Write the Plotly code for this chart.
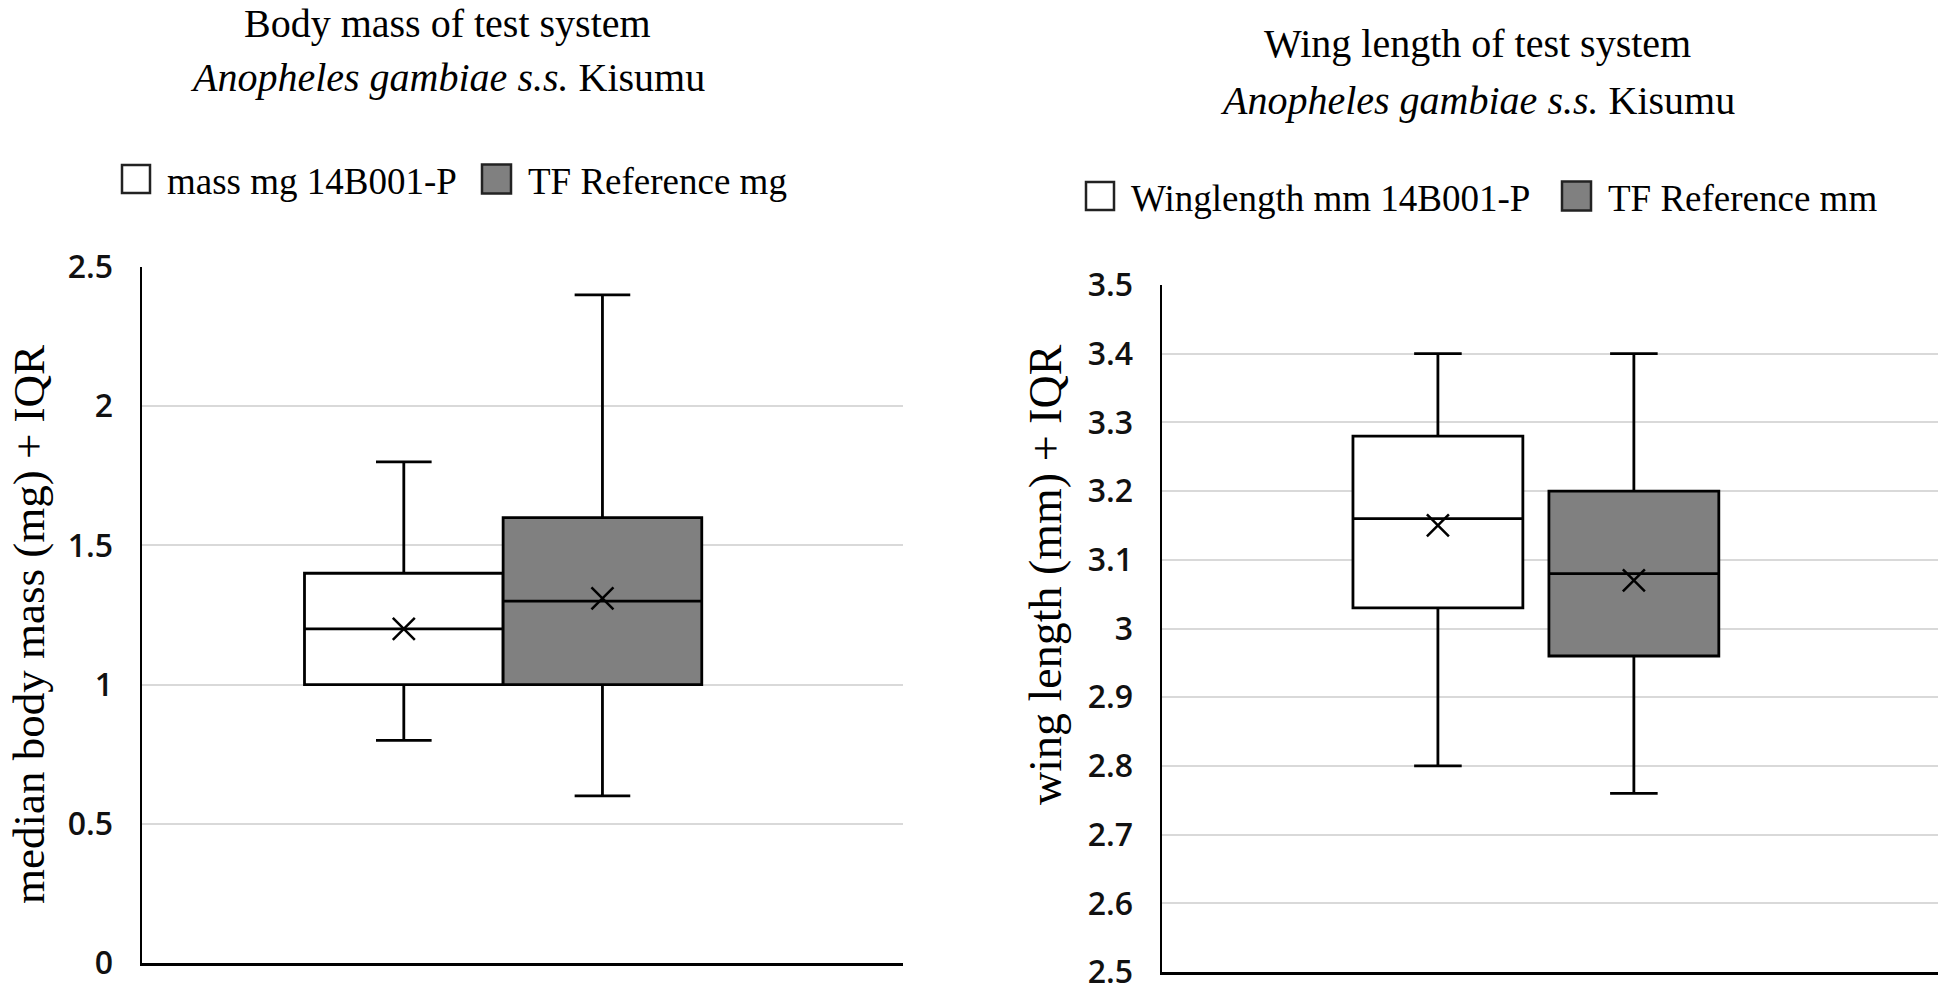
import plotly.graph_objects as go

# ---------------- data ----------------
mass_series = ["mass mg 14B001-P", "TF Reference mg"]
mass_lower = [0.8, 0.6]
mass_q1 = [1.0, 1.0]
mass_median = [1.2, 1.3]
mass_q3 = [1.4, 1.6]
mass_upper = [1.8, 2.4]
mass_mean = [1.2, 1.31]
mass_ticks = [0, 0.5, 1, 1.5, 2, 2.5]
mass_ticktext = ["0", "0.5", "1", "1.5", "2", "2.5"]

wing_series = ["Winglength mm 14B001-P", "TF Reference mm"]
wing_lower = [2.8, 2.76]
wing_q1 = [3.03, 2.96]
wing_median = [3.16, 3.08]
wing_q3 = [3.28, 3.2]
wing_upper = [3.4, 3.4]
wing_mean = [3.15, 3.07]
wing_ticks = [2.5, 2.6, 2.7, 2.8, 2.9, 3.0, 3.1, 3.2, 3.3, 3.4, 3.5]
wing_ticktext = ["2.5", "2.6", "2.7", "2.8", "2.9", "3", "3.1", "3.2", "3.3", "3.4", "3.5"]

fills = ["#ffffff", "#808080"]

W, H = 1960, 992
SERIF = "Liberation Serif"
SANS = "Open Sans"

def px(x):
    return x / W

def py(y):
    return 1 - y / H

fig = go.Figure()

def add_panel(series, lo, q1, med, q3, up, mean, xa, ya, boxwidth):
    for i, name in enumerate(series):
        fig.add_trace(go.Box(
            x=[name], q1=[q1[i]], median=[med[i]], q3=[q3[i]],
            lowerfence=[lo[i]], upperfence=[up[i]],
            width=boxwidth, whiskerwidth=0.28,
            fillcolor=fills[i], line=dict(color="black", width=2.8),
            boxpoints=False, showlegend=False, name=name,
            xaxis=xa, yaxis=ya,
        ))
    fig.add_trace(go.Scatter(
        x=series, y=mean, mode="markers", showlegend=False,
        marker=dict(symbol="x-thin", size=22, color="black",
                    line=dict(width=2.5, color="black")),
        xaxis=xa, yaxis=ya,
    ))

add_panel(mass_series, mass_lower, mass_q1, mass_median, mass_q3, mass_upper,
          mass_mean, "x", "y", 1.0)
add_panel(wing_series, wing_lower, wing_q1, wing_median, wing_q3, wing_upper,
          wing_mean, "x2", "y2", 0.867)

xcommon = dict(type="category", showline=True, linecolor="black", linewidth=2.5,
               showgrid=False, showticklabels=False, ticks="", zeroline=False,
               fixedrange=True, automargin=False)
ycommon = dict(showline=True, linecolor="black", linewidth=2.5, showgrid=True,
               gridcolor="#d9d9d9", gridwidth=2, zeroline=False, ticks="",
               tickfont=dict(family=SANS, size=32, color="#111111", weight=600),
               ticklabelstandoff=20, automargin=False, ticklabeloverflow="allow",
               fixedrange=True)

fig.update_layout(
    width=W, height=H, margin=dict(l=0, r=0, t=0, b=0, autoexpand=False),
    paper_bgcolor="white", plot_bgcolor="white", boxmode="overlay",
    xaxis=dict(domain=[px(142), px(903)], range=[-1.318, 2.513], anchor="y", **xcommon),
    yaxis=dict(domain=[py(963), py(267)], range=[0, 2.5], anchor="x",
               tickvals=mass_ticks, ticktext=mass_ticktext, **ycommon),
    xaxis2=dict(domain=[px(1162), px(1938)], range=[-1.408, 2.552], anchor="y2", **xcommon),
    yaxis2=dict(domain=[py(972), py(285)], range=[2.5, 3.5], anchor="x2",
                tickvals=wing_ticks, ticktext=wing_ticktext, **ycommon),
)

ann = []
def text(x, y, s, size, xanchor="center", angle=0):
    ann.append(dict(x=px(x), y=py(y), xref="paper", yref="paper", text=s,
                    showarrow=False, xanchor=xanchor, yanchor="middle",
                    textangle=angle, font=dict(family=SERIF, size=size, color="#000000")))

# titles
text(447, 24, "Body mass of test system", 40)
text(447, 78, "<i>Anopheles gambiae s.s.</i> Kisumu", 40)
text(1477, 44, "Wing length of test system", 40)
text(1477, 100, "<i>Anopheles gambiae s.s.</i> Kisumu", 40)
# axis titles
text(29, 625, "median body mass (mg) + IQR", 45, angle=-90)
text(1045, 575, "wing length (mm) + IQR", 46, angle=-90)

# legends
shapes = []
def legend_item(x0, x1, yc, fill, label):
    h = x1 - x0
    shapes.append(dict(type="rect", xref="paper", yref="paper",
                       x0=px(x0), x1=px(x1), y0=py(yc + h / 2), y1=py(yc - h / 2),
                       fillcolor=fill, line=dict(color="#222222", width=2.5)))
    text(x1 + 15, yc + 2, label, 37, xanchor="left")

legend_item(122, 150, 179, fills[0], mass_series[0])
legend_item(482, 511, 179, fills[1], mass_series[1])
legend_item(1086, 1114, 196, fills[0], wing_series[0])
legend_item(1562, 1591, 196, fills[1], wing_series[1])

fig.update_layout(annotations=ann, shapes=shapes)
fig.write_html("out.html", config={"displayModeBar": False, "staticPlot": True},
               post_script="document.body.style.margin='0';document.body.style.overflow='hidden';")
